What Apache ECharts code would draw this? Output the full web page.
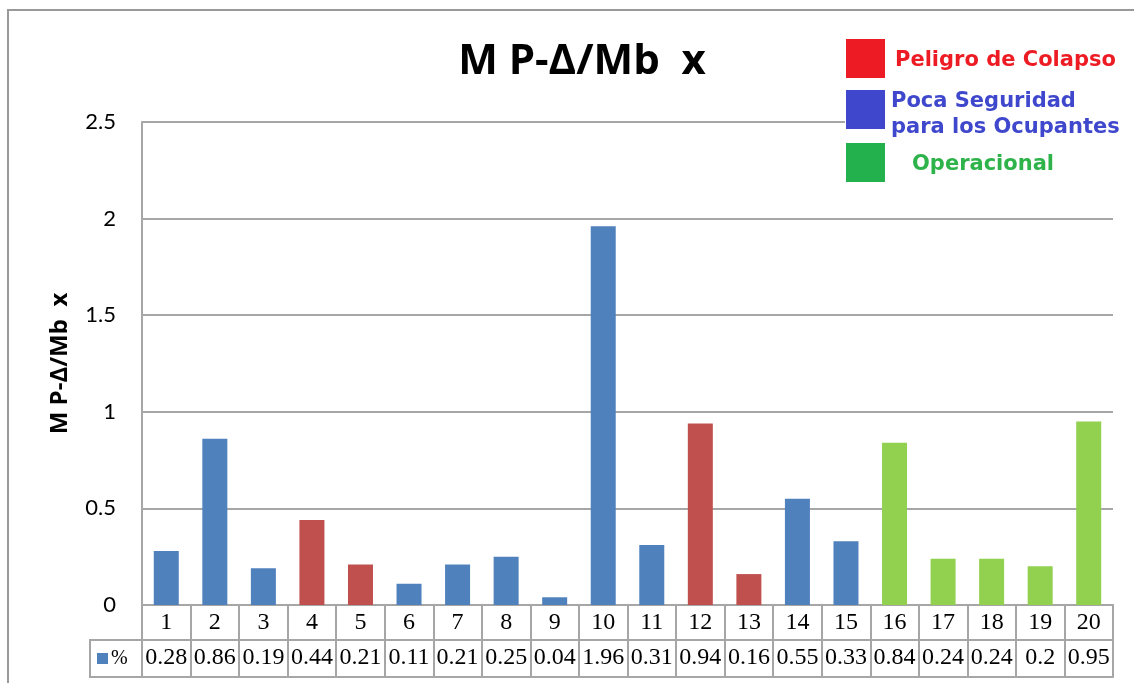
<!DOCTYPE html>
<html>
<head>
<meta charset="utf-8">
<script src="https://cdn.jsdelivr.net/npm/echarts@6/dist/echarts.min.js"></script>
<style>
  html, body { margin: 0; padding: 0; background: #fff; }
  #main { width: 1134px; height: 683px; }
</style>
</head>
<body>
<div id="main"></div>
<script>
const categories = ['1', '2', '3', '4', '5', '6', '7', '8', '9', '10', '11', '12', '13', '14', '15', '16', '17', '18', '19', '20']
const values = [0.28, 0.86, 0.19, 0.44, 0.21, 0.11, 0.21, 0.25, 0.04, 1.96, 0.31, 0.94, 0.16, 0.55, 0.33, 0.84, 0.24, 0.24, 0.2, 0.95]
// C = colapso, S = poca seguridad, O = operacional
const levels = ['S', 'S', 'S', 'C', 'C', 'S', 'S', 'S', 'S', 'S', 'S', 'C', 'C', 'S', 'S', 'O', 'O', 'O', 'O', 'O']
const yTicks = [0, 0.5, 1, 1.5, 2, 2.5]
const legendItems = ['Peligro de Colapso', 'Poca Seguridad\npara los Ocupantes', 'Operacional']

const barColors = { C: '#C0504D', S: '#4F81BD', O: '#92D050' }
const gridColor = '#A6A6A6'

const chart = echarts.init(document.getElementById('main'))

const option = {
  animation: false,
  backgroundColor: '#fff',
  title: {
    text: 'M P-Δ/Mb  x',
    left: 577,
    top: 36,
    textAlign: 'center',
    textStyle: { fontFamily: 'Open Sans', fontWeight: 'bold', fontSize: 42, color: '#000' }
  },
  grid: { left: 142, right: 21, top: 122, bottom: 78 },
  xAxis: [
    {
      type: 'category',
      data: categories,
      position: 'bottom',
      axisLine: { lineStyle: { color: gridColor, width: 2 } },
      axisTick: { show: true, length: 72, lineStyle: { color: gridColor, width: 2 } },
      axisLabel: { interval: 0, margin: 6, fontFamily: 'Liberation Serif', fontSize: 24, color: '#000' }
    },
    {
      type: 'category',
      data: categories,
      position: 'bottom',
      offset: 35,
      axisLine: { lineStyle: { color: gridColor, width: 2 } },
      axisTick: { show: false },
      axisLabel: {
        interval: 0, margin: 6, fontFamily: 'Liberation Serif', fontSize: 24, color: '#000',
        formatter: (v, i) => String(values[i])
      }
    },
    {
      type: 'category',
      data: categories,
      position: 'bottom',
      offset: 72,
      axisLine: { lineStyle: { color: gridColor, width: 2 } },
      axisTick: { show: false },
      axisLabel: { show: false }
    }
  ],
  yAxis: {
    type: 'value',
    min: yTicks[0],
    max: yTicks[yTicks.length - 1],
    interval: 0.5,
    name: 'M P-Δ/Mb  x',
    nameLocation: 'middle',
    nameGap: 70,
    nameTextStyle: { fontFamily: 'Open Sans', fontWeight: 'bold', fontSize: 24, color: '#000' },
    axisLine: { show: true, lineStyle: { color: gridColor, width: 2 } },
    axisTick: { show: false },
    axisLabel: { margin: 26, fontFamily: 'Lato', fontSize: 22, color: '#000' },
    splitLine: { lineStyle: { color: gridColor, width: 2 } }
  },
  series: [
    {
      type: 'bar',
      xAxisIndex: 0,
      barWidth: 25,
      data: values.map((v, i) => ({ value: v, itemStyle: { color: barColors[levels[i]] } }))
    }
  ],
  graphic: [
    // outer chart border
    { type: 'rect', z: 100, shape: { x: 8, y: 10, width: 1140, height: 700 },
      style: { fill: 'none', stroke: '#999', lineWidth: 2 } },
    // table legend cell
    { type: 'polyline', z: 100, shape: { points: [[142, 640], [90, 640], [90, 677], [142, 677]] },
      style: { fill: 'none', stroke: gridColor, lineWidth: 2 } },
    { type: 'rect', z: 100, shape: { x: 97, y: 653, width: 11, height: 11 }, style: { fill: '#4F81BD' } },
    { type: 'text', z: 100, x: 111, y: 659, style: { text: '%', fontFamily: 'Liberation Serif', fontSize: 20, fill: '#000', verticalAlign: 'middle' } },
    // custom legend
    { type: 'rect', z: 100, shape: { x: 845, y: 28, width: 300, height: 160 }, style: { fill: '#fff' } },
    { type: 'rect', z: 101, shape: { x: 846, y: 39, width: 39, height: 39 }, style: { fill: '#ED1C24' } },
    { type: 'rect', z: 101, shape: { x: 846, y: 90, width: 39, height: 39 }, style: { fill: '#3F48CC' } },
    { type: 'rect', z: 101, shape: { x: 846, y: 143, width: 39, height: 39 }, style: { fill: '#22B14C' } },
    { type: 'text', z: 101, x: 895, y: 61, style: { text: legendItems[0], fontFamily: 'DejaVu Sans', fontWeight: 'bold', fontSize: 21, fill: '#ED1C24', verticalAlign: 'middle' } },
    { type: 'text', z: 101, x: 891, y: 115, style: { text: legendItems[1], fontFamily: 'DejaVu Sans', fontWeight: 'bold', fontSize: 21, lineHeight: 26, fill: '#3F48CC', verticalAlign: 'middle' } },
    { type: 'text', z: 101, x: 912, y: 165, style: { text: legendItems[2], fontFamily: 'DejaVu Sans', fontWeight: 'bold', fontSize: 21, fill: '#2DB34A', verticalAlign: 'middle' } }
  ]
}

option && chart.setOption(option)
</script>
</body>
</html>
